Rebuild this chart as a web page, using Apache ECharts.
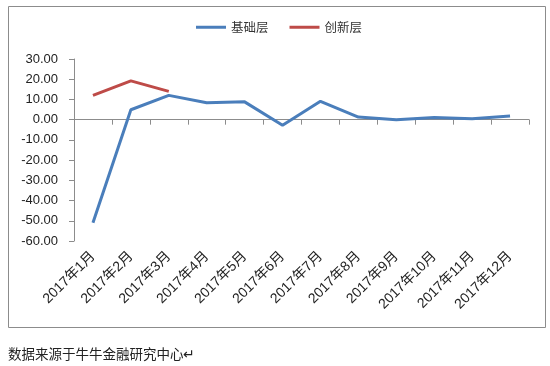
<!DOCTYPE html>
<html>
<head>
<meta charset="utf-8">
<script src="https://cdn.jsdelivr.net/npm/echarts@6/dist/echarts.min.js"></script>
<style>
html,body{margin:0;padding:0;background:#fff;}
#chart{width:550px;height:366px;}
</style>
</head>
<body>
<div id="chart"></div>
<script>
// 月份
var months = ['2017年1月','2017年2月','2017年3月','2017年4月','2017年5月','2017年6月',
              '2017年7月','2017年8月','2017年9月','2017年10月','2017年11月','2017年12月'];
// 基础层
var baseLayer = [-51.0, 4.9, 12.0, 8.4, 8.8, -2.8, 9.1, 1.3, 0.0, 1.1, 0.5, 1.8];
// 创新层
var innovLayer = [12.0, 19.2, 14.0, null, null, null, null, null, null, null, null, null];

var chart = echarts.init(document.getElementById('chart'));
chart.setOption({
    animation: false,
    textStyle: {fontFamily: 'Liberation Sans, "Noto Sans CJK SC", sans-serif'},
    graphic: [
        {type:'rect', shape:{x:8.5,y:6.5,width:537,height:321}, style:{fill:'none',stroke:'#8c8c8c',lineWidth:1}},
        {type:'text', left:8, top:347, style:{text:'数据来源于牛牛金融研究中心↵', fill:'#222', font:'13.5px "Noto Sans CJK SC"'}}
    ],
    legend: {
        top: 21,
        left: 196,
        padding: 0,
        itemWidth: 30,
        itemHeight: 3,
        itemGap: 21,
        icon: 'rect',
        textStyle: {fontSize: 12.5, color: '#333', fontFamily: '"Noto Sans CJK SC"'},
        data: ['基础层','创新层']
    },
    grid: {left: 74, right: 21, top: 59, bottom: 125, containLabel: false},
    xAxis: {
        type: 'category',
        data: months,
        boundaryGap: true,
        axisLine: {lineStyle: {color: '#8c8c8c'}},
        axisTick: {show: true, length: 5, lineStyle: {color: '#8c8c8c'}},
        axisLabel: {rotate: 45, interval: 0, color: '#222', fontSize: 14, margin: 13,
            fontFamily: 'Liberation Sans, "Noto Sans CJK SC"'}
    },
    yAxis: {
        type: 'value',
        min: -60, max: 30, interval: 10,
        axisLine: {show: true, lineStyle: {color: '#8c8c8c'}},
        axisTick: {show: true, length: 5, lineStyle: {color: '#8c8c8c'}},
        splitLine: {show: false},
        axisLabel: {color: '#222', fontSize: 13, margin: 16,
            formatter: function(v){ return v.toFixed(2); }}
    },
    series: [
        {name:'基础层', type:'line', data: baseLayer, symbol:'none',
         lineStyle:{color:'#4a7ebb', width:3}, itemStyle:{color:'#4a7ebb'}},
        {name:'创新层', type:'line', data: innovLayer, symbol:'none',
         lineStyle:{color:'#be4b48', width:3}, itemStyle:{color:'#be4b48'}}
    ]
});
</script>
</body>
</html>
